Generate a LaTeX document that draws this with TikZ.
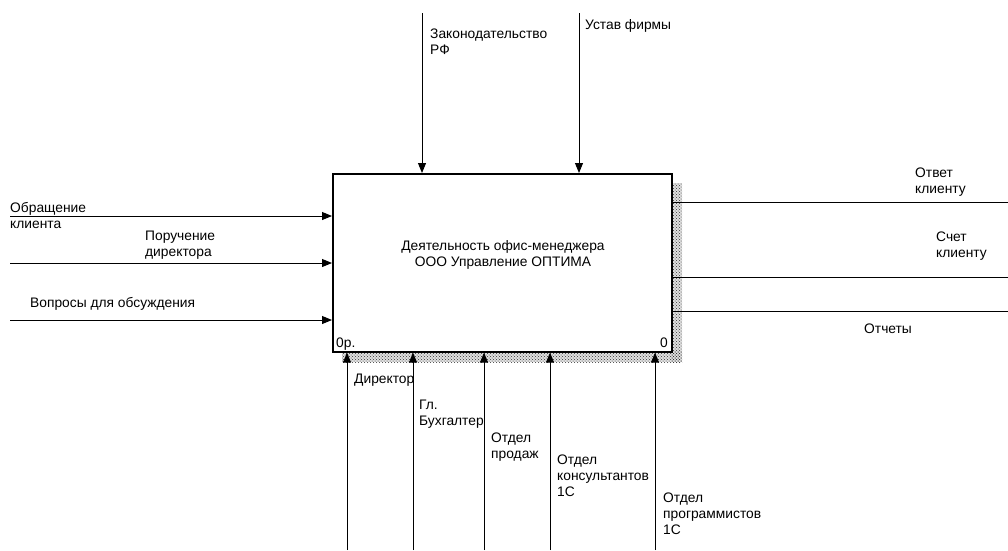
\documentclass[tikz,border=0pt]{standalone}
\usepackage{fontspec}
\setmainfont{Liberation Sans}
\usetikzlibrary{arrows.meta,patterns}
\begin{document}
\begin{tikzpicture}[x=1pt,y=-1pt,
  lbl/.style={anchor=base west,inner sep=0pt,align=left,font=\fontsize{13.8}{15.8}\selectfont},
  arr/.style={line width=0.9pt,-{Triangle[length=10pt,width=8pt]}},
  ln/.style={line width=0.9pt},
  shade/.style={pattern=crosshatch dots,pattern color=black!80}]
\useasboundingbox (0,0) rectangle (1008,550);
% shadow
\fill[black!12] (671,183) rectangle (682,362);
\fill[black!12] (342,351) rectangle (671,362);
\fill[shade] (671,183) rectangle (682,362);
\fill[shade] (342,351) rectangle (682,362);
% main box
\node[draw,line width=1.6pt,fill=white,minimum width=339pt,minimum height=178pt,anchor=north west,inner sep=0pt] (box) at (332,173) {};
\node[anchor=base,inner sep=0pt,align=center,font=\fontsize{13.8}{15.5}\selectfont] (title) at (503,266) {Деятельность офис-менеджера\\ООО Управление ОПТИМА};
\node[lbl] (num) at (336,347) {0р.};
\node[anchor=base east,inner sep=0pt,font=\fontsize{13.8}{16}\selectfont] (num2) at (668,347) {0};
% controls (top)
\coordinate (c1) at (422,13);
\coordinate (c2) at (579,13);
\draw[arr] (c1) -- (c1 |- box.north);
\draw[arr] (c2) -- (c2 |- box.north);
\node[lbl] (lc1) at (430,54) {Законодательство\\РФ};
\node[lbl] (lc2) at (585,29) {Устав фирмы};
% inputs (left)
\coordinate (i1) at (10,216);
\coordinate (i2) at (10,263);
\coordinate (i3) at (10,320);
\draw[arr] (i1) -- (i1 -| box.west);
\draw[arr] (i2) -- (i2 -| box.west);
\draw[arr] (i3) -- (i3 -| box.west);
\node[lbl] (li1) at (10,228) {Обращение\\клиента};
\node[lbl] (li2) at (145,256) {Поручение\\директора};
\node[lbl] (li3) at (30,307) {Вопросы для обсуждения};
% outputs (right)
\coordinate (o1) at (1008,202);
\coordinate (o2) at (1008,277);
\coordinate (o3) at (1008,311);
\draw[ln] (o1 -| box.east) -- (o1);
\draw[ln] (o2 -| box.east) -- (o2);
\draw[ln] (o3 -| box.east) -- (o3);
\node[lbl] (lo1) at (915,193) {Ответ\\клиенту};
\node[lbl] (lo2) at (936,257) {Счет\\клиенту};
\node[lbl] (lo3) at (864,333) {Отчеты};
% mechanisms (bottom)
\coordinate (m1) at (347,550);
\coordinate (m2) at (413,550);
\coordinate (m3) at (484,550);
\coordinate (m4) at (550,550);
\coordinate (m5) at (655,550);
\draw[arr] (m1) -- (m1 |- box.south);
\draw[arr] (m2) -- (m2 |- box.south);
\draw[arr] (m3) -- (m3 |- box.south);
\draw[arr] (m4) -- (m4 |- box.south);
\draw[arr] (m5) -- (m5 |- box.south);
\node[lbl] (lm1) at (354,383) {Директор};
\node[lbl] (lm2) at (419,425) {Гл.\\Бухгалтер};
\node[lbl] (lm3) at (491,458) {Отдел\\продаж};
\node[lbl] (lm4) at (557,496) {Отдел\\консультантов\\1С};
\node[lbl] (lm5) at (663,534) {Отдел\\программистов\\1С};
\end{tikzpicture}
\end{document}
